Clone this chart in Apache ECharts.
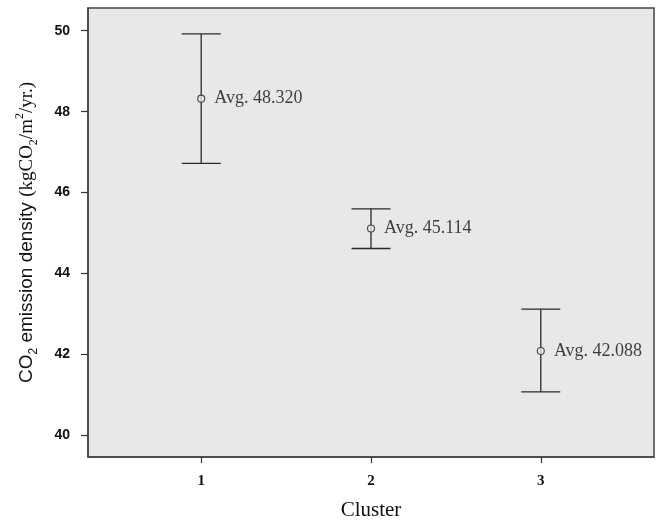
<!DOCTYPE html>
<html>
<head>
<meta charset="utf-8">
<script src="https://cdn.jsdelivr.net/npm/echarts@6/dist/echarts.min.js"></script>
<style>
  html, body { margin: 0; padding: 0; background: #fff; }
  #chart { width: 659px; height: 523px; }
</style>
</head>
<body>
<div id="chart"></div>
<script>
// cluster data
const clusters = [1, 2, 3];
const means = [48.320, 45.114, 42.088];
const upper = [49.92, 45.60, 43.12];
const lower = [46.72, 44.62, 41.08];
const yTicks = [40, 42, 44, 46, 48, 50];

const chart = echarts.init(document.getElementById('chart'));

const errData = clusters.map((c, i) => [c, lower[i], upper[i]]);
const meanData = clusters.map((c, i) => [c, means[i]]);

const option = {
  animation: false,
  grid: {
    left: 88, top: 8, right: 5, bottom: 66,
    outerBoundsMode: 'none',
    show: true,
    backgroundColor: '#e8e8e8',
    borderColor: '#444',
    borderWidth: 1.5
  },
  xAxis: {
    type: 'value',
    min: 1 / 3,
    max: 11 / 3,
    name: 'Cluster',
    nameLocation: 'middle',
    nameGap: 43,
    nameTextStyle: { fontFamily: 'Liberation Serif', fontSize: 21, color: '#111' },
    axisLine: { show: true, lineStyle: { color: '#444', width: 1.5 } },
    axisTick: { show: true, customValues: clusters, length: 6, lineStyle: { color: '#333', width: 1.2 } },
    axisLabel: {
      customValues: clusters, margin: 17,
      fontFamily: 'Liberation Serif', fontWeight: 'bold', fontSize: 15, color: '#111'
    },
    splitLine: { show: false }
  },
  yAxis: {
    type: 'value',
    min: 39.47,
    max: 50.56,
    name: '{a|CO}{s|2}{a| emission density }{b|(kgCO}{bs|2}{b|/m}{bp|2}{b|/yr.)}',
    nameLocation: 'middle',
    nameGap: 48,
    nameTextStyle: {
      color: '#111',
      rich: {
        a: { fontFamily: 'Liberation Sans', fontSize: 19, lineHeight: 26, color: '#111' },
        s: { fontFamily: 'Liberation Sans', fontSize: 12, lineHeight: 12, verticalAlign: 'bottom', color: '#111' },
        b: { fontFamily: 'Liberation Serif', fontSize: 19, lineHeight: 26, color: '#111' },
        bs: { fontFamily: 'Liberation Serif', fontSize: 12, lineHeight: 12, verticalAlign: 'bottom', color: '#111' },
        bp: { fontFamily: 'Liberation Serif', fontSize: 12, lineHeight: 12, verticalAlign: 'top', color: '#111' }
      }
    },
    axisLine: { show: true, lineStyle: { color: '#444', width: 1.5 } },
    axisTick: { show: true, customValues: yTicks, length: 7, lineStyle: { color: '#333', width: 1.2 } },
    axisLabel: {
      customValues: yTicks, margin: 18,
      fontFamily: 'Liberation Sans', fontWeight: 'bold', fontSize: 14, color: '#111'
    },
    splitLine: { show: false }
  },
  series: [
    {
      type: 'custom',
      data: errData,
      encode: { x: 0, y: [1, 2] },
      renderItem: function (params, api) {
        const x = api.value(0);
        const lo = api.coord([x, api.value(1)]);
        const hi = api.coord([x, api.value(2)]);
        const hw = 19.5;
        const style = { stroke: '#2a2a2a', lineWidth: 1.3 };
        return {
          type: 'group',
          children: [
            { type: 'line', shape: { x1: lo[0], y1: lo[1], x2: hi[0], y2: hi[1] }, style: style },
            { type: 'line', shape: { x1: hi[0] - hw, y1: hi[1], x2: hi[0] + hw, y2: hi[1] }, style: style },
            { type: 'line', shape: { x1: lo[0] - hw, y1: lo[1], x2: lo[0] + hw, y2: lo[1] }, style: style }
          ]
        };
      },
      z: 2
    },
    {
      type: 'scatter',
      data: meanData,
      symbol: 'circle',
      symbolSize: 7,
      itemStyle: { color: '#e8e8e8', borderColor: '#2a2a2a', borderWidth: 1.2 },
      label: {
        show: true,
        position: 'right',
        distance: 9,
        formatter: p => 'Avg. ' + p.value[1].toFixed(3),
        fontFamily: 'Liberation Serif',
        fontSize: 18,
        color: '#111'
      },
      z: 3
    }
  ]
};

chart.setOption(option);
</script>
</body>
</html>
